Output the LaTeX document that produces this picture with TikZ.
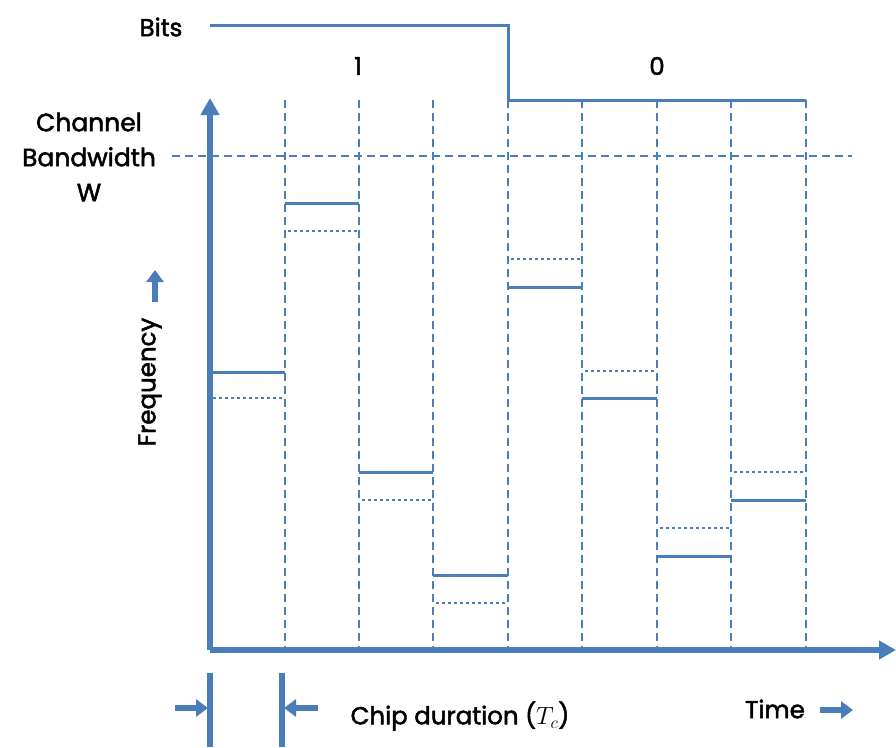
\documentclass[tikz,border=0pt]{standalone}
\usepackage{fontspec}
\setmainfont{Poppins}[FakeBold=2]
\usetikzlibrary{arrows.meta}
\definecolor{lb}{RGB}{74,126,187}
\tikzset{
  axisline/.style={lb,line width=6pt,-{Triangle[width=18pt,length=17pt]}},
  grid/.style={lb,line width=2.8pt,dash pattern=on 8pt off 5pt},
  solidf/.style={lb,line width=3pt},
  dotf/.style={lb,line width=2.8pt,dash pattern=on 3pt off 3pt},
  lbl/.style={font=\fontsize{24.5}{29}\selectfont,text=black,inner sep=0pt},
  fatarrow/.style={lb,line width=6pt,-{Triangle[width=17pt,length=12pt]}},
}
\begin{document}
\begin{tikzpicture}[x=1pt,y=-1pt]
\useasboundingbox (0,0) rectangle (896,747);
% grid verticals
\foreach \x in {285,359,433,508,582,657,731,806}
  \draw[grid] (\x,100) -- (\x,650);
% bandwidth line
\draw[grid] (172,156) -- (852,156);
% axes
\coordinate (O) at (210,650);
\coordinate (ytop) at (210,98);
\coordinate (xend) at (896,650);
\draw[axisline] (O) -- (ytop);
\draw[axisline] (O) -- (xend);
% bits waveform
\coordinate (b0) at (210,25);
\coordinate (b1) at (508,25);
\coordinate (b2) at (508,100);
\coordinate (b3) at (806,100);
\draw[solidf] (b0) -- (b1) -- (b2) -- (b3);
\node[lbl] (bits) at (161,27) {Bits};
\node[lbl] (one) at (358,66) {1};
\node[lbl] (zero) at (657,66) {0};
% channel bandwidth label
\node[lbl,align=center,font=\fontsize{25}{35}\selectfont] (cbw) at (89,157) {Channel\\Bandwidth\\W};
% frequency label
\node[lbl,rotate=90] (freq) at (150,382) {Frequency};
\coordinate (fa0) at (155,302);
\coordinate (fa1) at (155,270);
\draw[fatarrow] (fa0) -- (fa1);
% chip segments: solid then dotted
\foreach \xa/\xb/\ys/\yd in {210/285/372/398, 285/359/203/231, 359/433/472/500, 433/508/575/603,
                             508/582/287/259, 582/657/398/371, 657/731/556/528, 731/806/500/472} {
  \draw[solidf] (\xa,\ys) -- (\xb,\ys);
  \draw[dotf] (\xa+3,\yd) -- (\xb,\yd);
}
% chip duration markers
\coordinate (m1t) at (210,673);
\coordinate (m1b) at (210,747);
\coordinate (m2t) at (282,673);
\coordinate (m2b) at (282,747);
\draw[lb,line width=5.5pt] (m1t) -- (m1b);
\draw[lb,line width=5.5pt] (m2t) -- (m2b);
\coordinate (a1s) at (175,708);
\coordinate (a1e) at (208,708);
\coordinate (a2s) at (318,708);
\coordinate (a2e) at (284,708);
\draw[fatarrow] (a1s) -- (a1e);
\draw[fatarrow] (a2s) -- (a2e);
\node[lbl] (chip) at (460,716) {Chip duration ($T_c$)};
\node[lbl] (time) at (775,709) {Time};
\coordinate (t0) at (820,710);
\coordinate (t1) at (853,710);
\draw[fatarrow] (t0) -- (t1);
\end{tikzpicture}
\end{document}
